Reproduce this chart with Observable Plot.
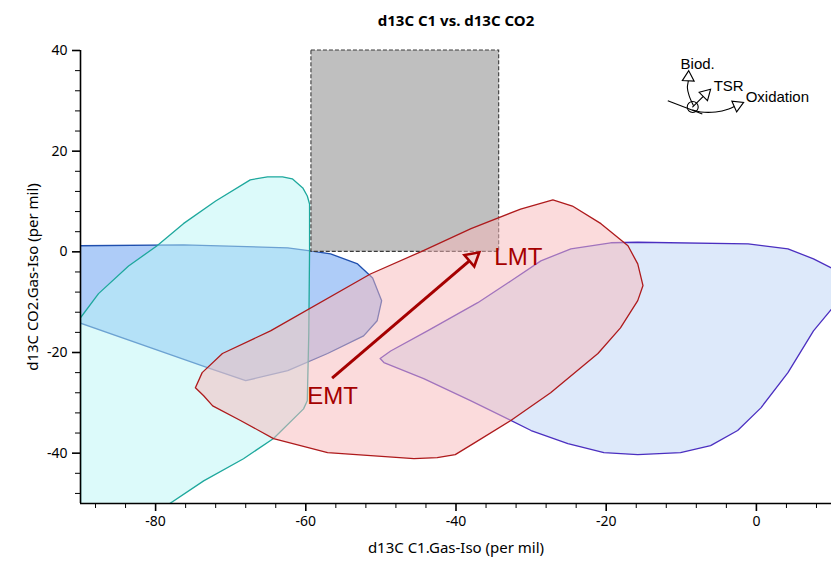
<!DOCTYPE html>
<html>
<head>
<meta charset="utf-8">
<script src="https://cdn.jsdelivr.net/npm/d3@7"></script>
<script src="https://cdn.jsdelivr.net/npm/@observablehq/plot@0.6"></script>
<style>
  html, body { margin: 0; padding: 0; background: #fff; }
</style>
</head>
<body>
<div id="chart"></div>
<script>
// ---- Data ----
const title = "d13C C1 vs. d13C CO2";
const xLabel = "d13C C1.Gas-Iso (per mil)";
const yLabel = "d13C CO2.Gas-Iso (per mil)";
const xDomain = [-90, 10];
const yDomain = [-50, 40];
const xMajor = [-80, -60, -40, -20, 0];
const yMajor = [-40, -20, 0, 20, 40];
const xMinor = [-88, -84, -76, -72, -68, -64, -56, -52, -48, -44, -36, -32, -28, -24, -16, -12, -8, -4, 4, 8];
const yMinor = [-48, -44, -36, -32, -28, -24, -16, -12, -8, -4, 4, 8, 12, 16, 24, 28, 32, 36];

// Blue field (dark blue outline)
const bluePoly = [
  [-90.5, 1.2], [-76.3, 1.4], [-62.4, 0.8], [-59.4, 0.2], [-56.7, -0.4], [-53.1, -2.4],
  [-51.1, -5.2], [-49.9, -9.7], [-50.5, -13.7], [-52.3, -16.7], [-57.1, -20.2],
  [-62.4, -23.6], [-68.0, -25.6], [-73.1, -23.0], [-90.5, -13.9]
];
// Cyan field (teal outline)
const cyanPoly = [
  [-90, -50.5], [-90, -13.1], [-87.6, -8.3], [-83.6, -2.8], [-79.8, 1.2], [-76.3, 5.6],
  [-72.0, 10.1], [-67.4, 14.3], [-65.1, 14.9], [-63.1, 14.9], [-61.8, 14.5], [-60.4, 12.7],
  [-59.8, 11.1], [-59.5, 9.5], [-59.5, 0.2], [-59.6, -16.1], [-59.8, -29.6], [-60.3, -31.2],
  [-64.3, -37.1], [-68.3, -41.1], [-73.6, -45.5], [-78.6, -50.5]
];
// Purple field (violet outline)
const purplePoly = [
  [-50.1, -21.2], [-48.7, -19.7], [-43.8, -15.7], [-37.1, -10.1], [-32.7, -5.8], [-28.7, -1.8],
  [-24.7, 0.6], [-19.4, 1.8], [-15.8, 1.9], [-1.1, 1.6], [4.2, 0.6], [7.6, -1.4], [10.5, -3.6],
  [10.5, -10.5], [7.6, -15.7], [4.2, -24.0], [0.6, -31.0], [-2.5, -35.5], [-6.1, -38.5],
  [-10.1, -39.9], [-15.8, -40.3], [-20.3, -39.9], [-25.1, -38.1], [-30.0, -35.5],
  [-38.0, -29.6], [-44.3, -25.2], [-49.6, -22.0]
];
// Red field (red outline)
const redPoly = [
  [-74.7, -27.0], [-73.8, -24.0], [-71.1, -20.2], [-64.7, -15.7], [-51.4, -4.4], [-44.7, 0.0],
  [-38.0, 4.6], [-31.4, 8.5], [-27.1, 10.3], [-24.5, 9.1], [-20.7, 5.6], [-17.1, 1.2],
  [-15.8, -2.4], [-15.1, -6.7], [-15.8, -9.7], [-18.1, -15.1], [-21.1, -20.2], [-27.4, -28.0],
  [-32.7, -33.5], [-37.7, -38.1], [-40.1, -40.3], [-42.5, -40.9], [-45.6, -41.1],
  [-57.1, -39.9], [-64.3, -37.1], [-68.7, -33.5], [-72.4, -30.6], [-73.6, -28.6]
];
// Grey box
const greyBox = [{x1: -59.25, x2: -34.25, y1: 0, y2: 40}];

// EMT -> LMT arrow and labels
const mainArrow = {from: [-56.5, -25.1], tip: [-36.9, -0.1]};
const maturityLabels = [
  {label: "EMT", x: -59.8, y: -30.2},
  {label: "LMT", x: -34.9, y: -2.6}
];

// Process key (top right)
const keyCircle = [{x: -8.48, y: 28.78}];
const keyCross = [{x1: -11.8, y1: 30.0, x2: -7.2, y2: 27.4}];
const biodCurve = [[-8.4, 29.1], [-8.95, 30.97], [-9.19, 32.62], [-9.08, 33.8], [-9.01, 36.0]];
const tsrCurve = [[-8.48, 28.78], [-6.1, 32.3]];
const oxidCurve = [[-8.48, 28.19], [-7.41, 27.79], [-5.41, 27.79], [-3.68, 28.39], [-1.7, 29.7]];
const keyLabels = [
  {label: "Biod.", x: -10.1, y: 36.3},
  {label: "TSR", x: -5.69, y: 31.96},
  {label: "Oxidation", x: -1.43, y: 29.7}
];

// ---- helpers ----
const rows = (pts) => [...pts, pts[0]].map(([x, y]) => ({x, y}));
const fmt = (d) => `${d}`;

function head(from, tip, r, sx, sy) {
  const x1 = sx.apply(from[0]), y1 = sy.apply(from[1]);
  const x2 = sx.apply(tip[0]), y2 = sy.apply(tip[1]);
  const L = Math.hypot(x2 - x1, y2 - y1), ux = (x2 - x1) / L, uy = (y2 - y1) / L;
  const k = Math.sqrt((Math.PI * r * r) / (3 * Math.sqrt(3)));
  return {
    x: sx.invert(x2 - 2 * k * ux), y: sy.invert(y2 - 2 * k * uy),
    bx: sx.invert(x2 - 3 * k * ux), by: sy.invert(y2 - 3 * k * uy),
    rotate: Math.atan2(ux, -uy) * 180 / Math.PI
  };
}

function makeChart(sx, sy) {
  const marks = [
    Plot.line(rows(bluePoly), {x: "x", y: "y", fill: "#5d99f1", fillOpacity: 0.5, stroke: "#1f4fae", strokeWidth: 1.3, clip: true}),
    Plot.line(rows(cyanPoly), {x: "x", y: "y", fill: "#b9f5f5", fillOpacity: 0.5, stroke: "#1ea89d", strokeWidth: 1.3, clip: true}),
    Plot.line(rows(purplePoly), {x: "x", y: "y", fill: "#bbd3f5", fillOpacity: 0.5, stroke: "#4b2fc0", strokeWidth: 1.3, clip: true}),
    Plot.rect(greyBox, {x1: "x1", x2: "x2", y1: "y1", y2: "y2", fill: "#bfbfbf", stroke: "#3a3a3a", strokeWidth: 1.1, strokeDasharray: "4,2"}),
    Plot.line(rows(redPoly), {x: "x", y: "y", fill: "#f7b7b9", fillOpacity: 0.5, stroke: "#ae1a1c", strokeWidth: 1.3, clip: true}),
    Plot.text(maturityLabels, {x: "x", y: "y", text: "label", textAnchor: "start", lineAnchor: "bottom", fill: "#a50000", fontSize: 24, fontFamily: "Liberation Sans"}),
    // key
    Plot.dot(keyCircle, {x: "x", y: "y", r: 5.5, stroke: "#000", strokeWidth: 1.1, fill: "none"}),
    Plot.link(keyCross, {x1: "x1", y1: "y1", x2: "x2", y2: "y2", stroke: "#000", strokeWidth: 1.1}),
    Plot.text(keyLabels, {x: "x", y: "y", text: "label", textAnchor: "start", lineAnchor: "bottom", fill: "#000", fontSize: 15, fontFamily: "Liberation Sans"}),
    // axes
    Plot.axisX(xMajor, {tickSize: 8, tickPadding: 5, tickFormat: fmt, fontSize: 14, label: null, stroke: "#000", strokeWidth: 1.6}),
    Plot.axisX(xMinor, {tickSize: 5, tickFormat: () => "", label: null, stroke: "#000", strokeWidth: 1}),
    Plot.axisY(yMajor, {tickSize: 8, tickPadding: 5, tickFormat: fmt, fontSize: 14, label: null, stroke: "#000", strokeWidth: 1.6}),
    Plot.axisY(yMinor, {tickSize: 5, tickFormat: () => "", label: null, stroke: "#000", strokeWidth: 1}),
    Plot.ruleX([xDomain[0]], {stroke: "#000", strokeWidth: 1.6}),
    Plot.ruleY([yDomain[0]], {stroke: "#000", strokeWidth: 1.6}),
    Plot.text([title], {text: (d) => d, frameAnchor: "top", dy: -35, fontWeight: "bold", fontSize: 15}),
    Plot.text([xLabel], {text: (d) => d, frameAnchor: "bottom", dy: 45, textAnchor: "middle", lineAnchor: "middle", fontSize: 15}),
    Plot.text([yLabel], {text: (d) => d, frameAnchor: "left", dx: -47, textAnchor: "middle", lineAnchor: "middle", rotate: -90, fontSize: 15})
  ];
  if (sx) {
    const mh = head(mainArrow.from, mainArrow.tip, 5.6, sx, sy);
    marks.push(
      Plot.link([{x1: mainArrow.from[0], y1: mainArrow.from[1], x2: mh.bx, y2: mh.by}], {x1: "x1", y1: "y1", x2: "x2", y2: "y2", stroke: "#a50000", strokeWidth: 3}),
      Plot.dot([mh], {x: "x", y: "y", rotate: "rotate", symbol: "triangle", r: 5.6, stroke: "#a50000", strokeWidth: 2.6, fill: "#f3d3d3"})
    );
    const curves = [biodCurve, tsrCurve, oxidCurve];
    const keyHeads = curves.map((c) => head(c[c.length - 2], c[c.length - 1], 4.4, sx, sy));
    curves.forEach((c, i) => {
      const h = keyHeads[i];
      const pts = [...c.slice(0, -1), [h.bx, h.by]].map(([x, y]) => ({x, y}));
      marks.push(Plot.line(pts, {x: "x", y: "y", curve: "catmull-rom", stroke: "#000", strokeWidth: 1.1}));
    });
    marks.push(Plot.dot(keyHeads, {x: "x", y: "y", rotate: "rotate", symbol: "triangle", r: 4.4, stroke: "#000", strokeWidth: 1.1, fill: "#fff"}));
  }
  return Plot.plot({
    width: 831,
    height: 563,
    marginLeft: 80,
    marginRight: 0,
    marginTop: 50,
    marginBottom: 60,
    style: {fontFamily: "'Noto Sans', sans-serif", fontSize: "13px", background: "#fff", color: "#000"},
    x: {domain: xDomain, label: null, axis: null},
    y: {domain: yDomain, label: null, axis: null},
    marks
  });
}

const first = makeChart(null, null);
const chart = makeChart(first.scale("x"), first.scale("y"));
document.getElementById("chart").appendChild(chart);
</script>
</body>
</html>
